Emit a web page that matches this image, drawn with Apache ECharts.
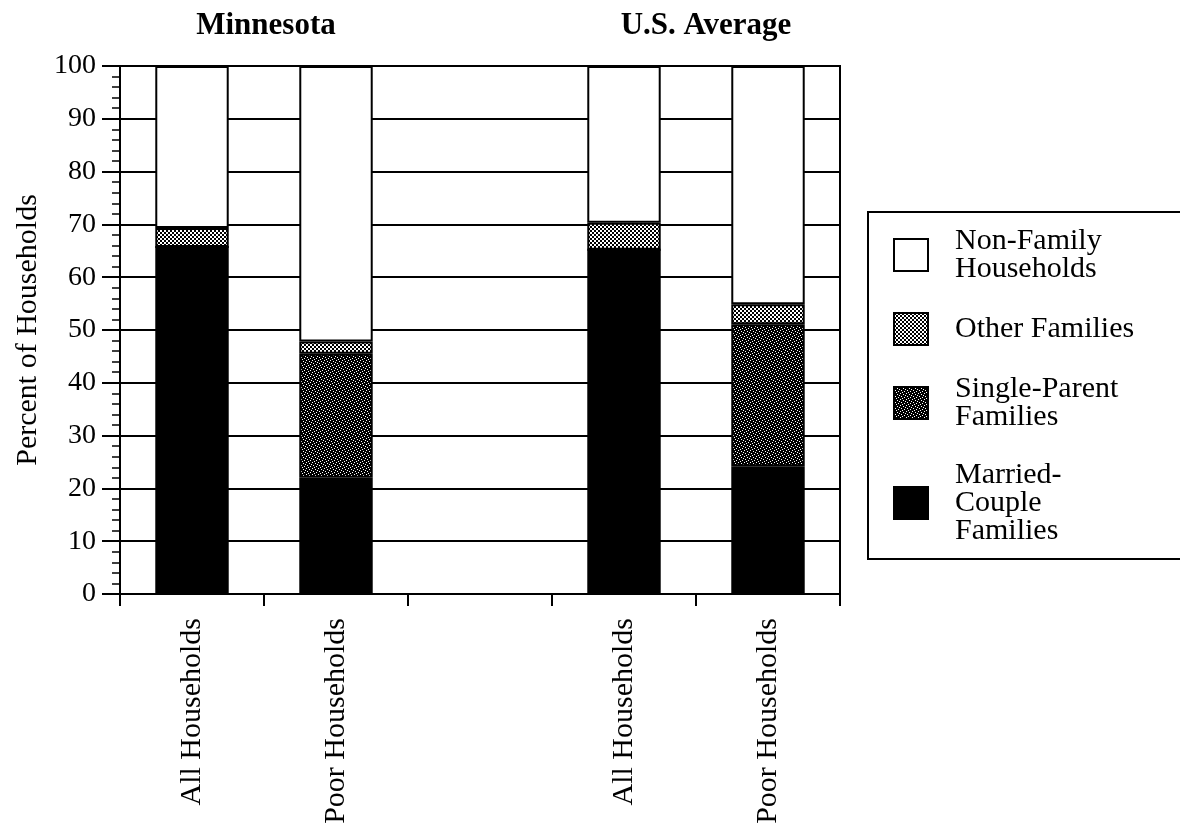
<!DOCTYPE html>
<html>
<head>
<meta charset="utf-8">
<script src="https://cdn.jsdelivr.net/npm/echarts@6/dist/echarts.min.js"></script>
<style>
  html, body { margin: 0; padding: 0; background: #fff; }
  #chart { width: 1180px; height: 834px; }
</style>
</head>
<body>
<div id="chart"></div>
<script>
  // categories (middle one is the empty gap between the two groups)
  const categories = ["All Households", "Poor Households", "", "All Households", "Poor Households"];
  const groupTitles = ["Minnesota", "U.S. Average"];

  // percent of households
  const married = [65.7, 22.0, null, 65.2, 24.2];
  const singleParent = [0, 23.5, null, 0, 26.9];
  const otherFamilies = [3.6, 2.3, null, 5.1, 3.8];
  const nonFamily = [30.7, 52.2, null, 29.7, 45.1];

  const legendNames = {
    "Non-Family Households": "Non-Family\nHouseholds",
    "Other Families": "Other Families",
    "Single-Parent Families": "Single-Parent\nFamilies",
    "Married-Couple Families": "Married-\nCouple\nFamilies",
  };

  const FONT = '"Liberation Serif", "Times New Roman", serif';

  // small tiles for the stipple fills
  function makeTile(size, bg, fg, dots) {
    const c = document.createElement("canvas");
    c.width = size;
    c.height = size;
    const ctx = c.getContext("2d");
    ctx.fillStyle = bg;
    ctx.fillRect(0, 0, size, size);
    ctx.fillStyle = fg;
    dots.forEach(function (d) {
      ctx.fillRect(d[0], d[1], d[2] || 1, d[3] || 1);
    });
    return c;
  }

  const otherTile = makeTile(4, "#fff", "#000", [[0, 0, 2, 2], [2, 2, 2, 2]]);
  const singleTile = makeTile(6, "#000", "#fff", [[0, 0], [3, 1], [1, 3], [4, 4], [5, 2], [2, 5]]);

  const border = { borderColor: "#000", borderWidth: 2 };

  function barSeries(name, data, color) {
    return {
      name: name,
      type: "bar",
      stack: "total",
      barWidth: "51%",
      data: data,
      itemStyle: Object.assign({ color: color }, border),
      emphasis: { disabled: true },
    };
  }

  const titleStyle = { fontFamily: FONT, fontSize: 31, fontWeight: "bold", color: "#000" };

  const chart = echarts.init(document.getElementById("chart"));
  const option = {
    animation: false,
    backgroundColor: "#fff",
    title: [
      { text: groupTitles[0], left: 261, top: 5, textAlign: "center", textStyle: titleStyle },
      { text: groupTitles[1], left: 701, top: 5, textAlign: "center", textStyle: titleStyle },
    ],
    grid: {
      left: 120,
      right: 340,
      top: 66,
      bottom: 240,
      show: true,
      borderColor: "#000",
      borderWidth: 2,
    },
    legend: {
      orient: "vertical",
      left: 868,
      top: 212,
      padding: [14, 300, 13, 25],
      itemGap: 28,
      itemWidth: 34,
      itemHeight: 32,
      borderColor: "#000",
      borderWidth: 2,
      icon: "rect",
      selectedMode: false,
      data: ["Non-Family Households", "Other Families", "Single-Parent Families", "Married-Couple Families"],
      formatter: function (name) {
        return legendNames[name];
      },
      itemStyle: border,
      textStyle: {
        fontFamily: FONT,
        fontSize: 30,
        lineHeight: 28,
        color: "#000",
        padding: [0, 0, 0, 22],
      },
    },
    xAxis: {
      type: "category",
      data: categories,
      boundaryGap: true,
      axisLine: { lineStyle: { color: "#000", width: 2 } },
      axisTick: { show: true, interval: 0, length: 12, lineStyle: { color: "#000", width: 2 } },
      axisLabel: {
        interval: 0,
        rotate: 90,
        margin: 24,
        fontFamily: FONT,
        fontSize: 30,
        color: "#000",
      },
      splitLine: { show: false },
    },
    yAxis: {
      type: "value",
      min: 0,
      max: 100,
      interval: 10,
      name: "Percent of Households",
      nameLocation: "middle",
      nameGap: 72,
      nameRotate: 90,
      nameTextStyle: { fontFamily: FONT, fontSize: 30, color: "#000" },
      axisLine: { show: true, lineStyle: { color: "#000", width: 2 } },
      axisTick: { show: true, length: 18, lineStyle: { color: "#000", width: 2 } },
      minorTick: { show: true, splitNumber: 5, length: 8, lineStyle: { color: "#000", width: 1.5 } },
      axisLabel: { margin: 24, fontFamily: FONT, fontSize: 28, color: "#000" },
      splitLine: { show: true, lineStyle: { color: "#000", width: 2 } },
    },
    series: [
      barSeries("Married-Couple Families", married, "#000"),
      barSeries("Single-Parent Families", singleParent, { image: singleTile, repeat: "repeat" }),
      barSeries("Other Families", otherFamilies, { image: otherTile, repeat: "repeat" }),
      barSeries("Non-Family Households", nonFamily, "#fff"),
    ],
  };
  chart.setOption(option);
</script>
</body>
</html>
